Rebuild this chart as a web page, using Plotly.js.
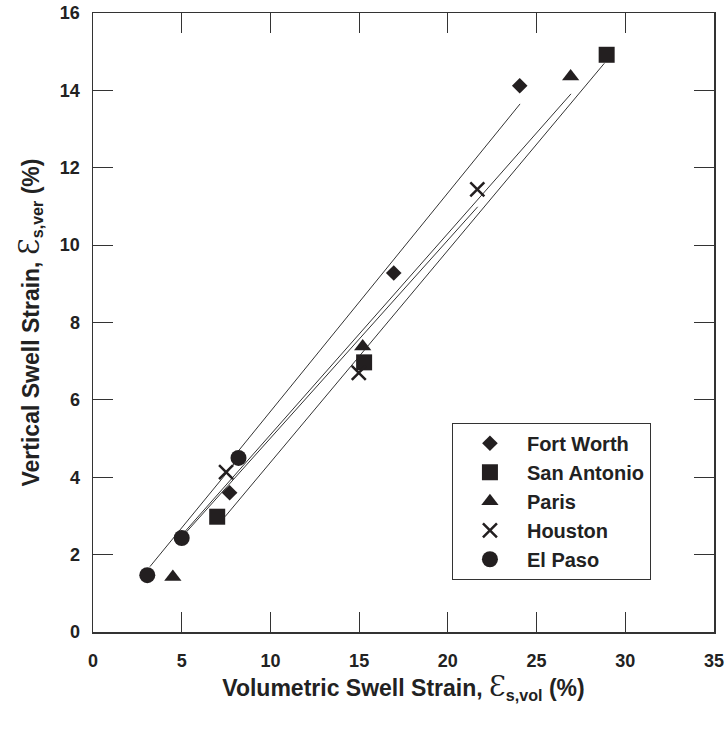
<!DOCTYPE html>
<html>
<head>
<meta charset="utf-8">
<script src="https://cdn.plot.ly/plotly-3.0.1.min.js"></script>
<style>html,body{margin:0;padding:0;background:#fff;}#chart{width:728px;height:729px;}</style>
</head>
<body>
<div id="chart"></div>
<script>
// Data points (volumetric swell strain %, vertical swell strain %)
var fortWorthX = [7.7, 16.95, 24.05];
var fortWorthY = [3.6, 9.28, 14.12];
var sanAntonioX = [7.0, 15.28, 28.95];
var sanAntonioY = [2.98, 6.97, 14.92];
var parisX = [4.5, 15.2, 26.92];
var parisY = [1.42, 7.38, 14.36];
var houstonX = [7.5, 14.98, 21.66];
var houstonY = [4.13, 6.7, 11.44];
var elPasoX = [3.06, 5.0, 8.2];
var elPasoY = [1.47, 2.43, 4.5];

// Trend line end points
var fortWorthFitX = [8.0, 24.07];
var fortWorthFitY = [4.57, 13.65];
var sanAntonioFitX = [7.44, 28.82];
var sanAntonioFitY = [2.98, 14.70];
var parisFitX = [5.0, 26.94];
var parisFitY = [2.5, 13.91];
var houstonFitX = [5.0, 21.68];
var houstonFitY = [2.45, 10.99];
var elPasoFitX = [3.21, 8.3];
var elPasoFitY = [1.69, 4.54];

var names = ['Fort Worth', 'San Antonio', 'Paris', 'Houston', 'El Paso'];

var ink = '#231f20';
var lineInk = '#333333';
var fam = 'Liberation Sans, Arial, sans-serif';

function fit(x, y) {
  return {x: x, y: y, mode: 'lines', type: 'scatter', showlegend: false,
          hoverinfo: 'skip', line: {color: lineInk, width: 1}};
}

var traces = [
  fit(fortWorthFitX, fortWorthFitY),
  fit(sanAntonioFitX, sanAntonioFitY),
  fit(parisFitX, parisFitY),
  fit(houstonFitX, houstonFitY),
  fit(elPasoFitX, elPasoFitY),
  {x: fortWorthX, y: fortWorthY, name: names[0], mode: 'markers', type: 'scatter',
   marker: {symbol: 'diamond', size: 12, color: ink}},
  {x: sanAntonioX, y: sanAntonioY, name: names[1], mode: 'markers', type: 'scatter',
   marker: {symbol: 'square', size: 16, color: ink}},
  {x: parisX, y: parisY, name: names[2], mode: 'markers', type: 'scatter',
   marker: {symbol: 'triangle-up', size: 15, color: ink}},
  {x: houstonX, y: houstonY, name: names[3], mode: 'markers', type: 'scatter',
   marker: {symbol: 'x-thin', size: 14, color: ink, line: {color: ink, width: 2.5}}},
  {x: elPasoX, y: elPasoY, name: names[4], mode: 'markers', type: 'scatter',
   marker: {symbol: 'circle', size: 16, color: ink}}
];

var eps = '<span style="font-family:DejaVu Serif;font-weight:normal;font-size:27px">Ɛ</span>';

var axisCommon = {
  showgrid: false, zeroline: false, showline: true, linecolor: '#333', linewidth: 1.5,
  mirror: 'ticks', ticks: 'inside', ticklen: 20, tickwidth: 1.2, tickcolor: '#333',
  tickfont: {family: fam, size: 18, color: '#222', weight: 'bold'}
};

var layout = {
  width: 728, height: 729,
  margin: {l: 93, r: 14, t: 13, b: 97},
  paper_bgcolor: '#fff', plot_bgcolor: '#fff',
  showlegend: true,
  legend: {
    x: 0.578, y: 0.338, xanchor: 'left', yanchor: 'top',
    bgcolor: '#fff', bordercolor: '#333', borderwidth: 1,
    font: {family: fam, size: 20, color: '#222', weight: 'bold'},
    itemwidth: 64, tracegroupgap: 0
  },
  xaxis: Object.assign({}, axisCommon, {
    range: [0, 35], dtick: 5, tick0: 0,
    ticklabelstandoff: 12,
    title: {text: '<b>Volumetric Swell Strain, </b>' + eps + '<b><sub>s,vol</sub> (%)</b>',
            font: {family: fam, size: 23, color: '#222'}, standoff: 10}
  }),
  yaxis: Object.assign({}, axisCommon, {
    range: [0, 16], dtick: 2, tick0: 0,
    ticklabelstandoff: 8,
    title: {text: '<b>Vertical Swell Strain, </b>' + eps + '<b><sub>s,ver</sub> (%)</b>',
            font: {family: fam, size: 23, color: '#222'}, standoff: 14}
  })
};

Plotly.newPlot('chart', traces, layout, {displayModeBar: false, staticPlot: true});
</script>
</body>
</html>
